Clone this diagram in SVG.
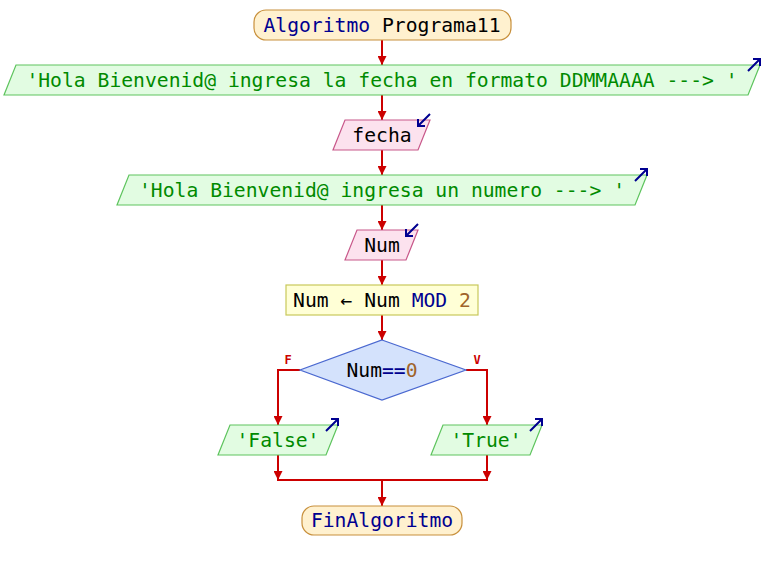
<svg xmlns="http://www.w3.org/2000/svg" width="764" height="570" viewBox="0 0 764 570">
  <defs>
    <style>
      .t { font-family: "DejaVu Sans Mono", "Liberation Mono", monospace; font-size: 19.7px; text-anchor: middle; }
      .term { fill: #fff1cf; stroke: #c8903c; stroke-width: 1.2; }
      .out { fill: #e2fce2; stroke: #5ec45e; stroke-width: 1.2; }
      .in { fill: #fce2ee; stroke: #c8588a; stroke-width: 1.2; }
      .asg { fill: #ffffd6; stroke: #c8c85a; stroke-width: 1.2; }
      .dec { fill: #d4e2fc; stroke: #4a68d0; stroke-width: 1.2; }
      .kw { fill: #000090; }
      .str { fill: #008a00; }
      .num { fill: #a0642a; }
      .var { fill: #000000; }
      .flow { fill: none; stroke: #cc0000; stroke-width: 2; }
      .io { fill: none; stroke: #000090; stroke-width: 2; }
      .lbl { font-family: "DejaVu Sans Mono", monospace; font-size: 12px; font-weight: bold; fill: #cc0000; text-anchor: middle; }
    </style>
    <marker id="ah" viewBox="0 0 10 10" refX="10" refY="5" markerWidth="4.5" markerHeight="4.5" orient="auto" markerUnits="strokeWidth">
      <path d="M0,0 L10,5 L0,10 z" fill="#cc0000"/>
    </marker>
  </defs>

  <!-- connectors -->
  <g id="connectors">
    <path class="flow" d="M382,40 V65" marker-end="url(#ah)"/>
    <path class="flow" d="M382,95 V120" marker-end="url(#ah)"/>
    <path class="flow" d="M382,150 V175" marker-end="url(#ah)"/>
    <path class="flow" d="M382,205 V230" marker-end="url(#ah)"/>
    <path class="flow" d="M382,260 V285" marker-end="url(#ah)"/>
    <path class="flow" d="M382,315 V340" marker-end="url(#ah)"/>
    <path class="flow" d="M300,370 H278 V425" marker-end="url(#ah)"/>
    <path class="flow" d="M466,370 H487 V425" marker-end="url(#ah)"/>
    <path class="flow" d="M278,455 V480" marker-end="url(#ah)"/>
    <path class="flow" d="M487,455 V480" marker-end="url(#ah)"/>
    <path class="flow" d="M277,480 H488"/>
    <path class="flow" d="M382,480 V506" marker-end="url(#ah)"/>
    <text class="lbl" x="288" y="364">F</text>
    <text class="lbl" x="477" y="364">V</text>
  </g>

  <!-- start -->
  <g id="start">
    <rect class="term" x="254" y="10" width="257" height="30" rx="12"/>
    <text class="t" x="382" y="32"><tspan class="kw">Algoritmo</tspan><tspan class="var"> Programa11</tspan></text>
  </g>

  <!-- first message -->
  <g id="msg1">
    <polygon class="out" points="16,65 760,65 748,95 4,95"/>
    <text class="t str" x="382" y="87">'Hola Bienvenid@ ingresa la fecha en formato DDMMAAAA ---&gt; '</text>
    <path class="io" d="M748,71 L760,59 M753,59 H760 V66"/>
  </g>

  <!-- read fecha -->
  <g id="readFecha">
    <polygon class="in" points="345,120 430,120 418,150 333,150"/>
    <text class="t var" x="382" y="142">fecha</text>
    <path class="io" d="M430,114 L418,126 M418,119 V126 H425"/>
  </g>

  <!-- second message -->
  <g id="msg2">
    <polygon class="out" points="129,175 647,175 635,205 117,205"/>
    <text class="t str" x="382" y="197">'Hola Bienvenid@ ingresa un numero ---&gt; '</text>
    <path class="io" d="M635,181 L647,169 M640,169 H647 V176"/>
  </g>

  <!-- read Num -->
  <g id="readNum">
    <polygon class="in" points="357,230 418,230 406,260 345,260"/>
    <text class="t var" x="382" y="252">Num</text>
    <path class="io" d="M418,224 L406,236 M406,229 V236 H413"/>
  </g>

  <!-- assignment -->
  <g id="assign">
    <rect class="asg" x="286" y="285" width="192" height="30"/>
    <text class="t" x="382" y="307"><tspan class="var">Num ← Num </tspan><tspan class="kw">MOD</tspan><tspan class="var"> </tspan><tspan class="num">2</tspan></text>
  </g>

  <!-- decision -->
  <g id="decision">
    <polygon class="dec" points="382,340 466,370 382,400 300,370"/>
    <text class="t" x="382" y="377"><tspan class="var">Num</tspan><tspan class="kw">==</tspan><tspan class="num">0</tspan></text>
  </g>

  <!-- false branch -->
  <g id="outFalse">
    <polygon class="out" points="230,425 338,425 326,455 218,455"/>
    <text class="t str" x="278" y="447">'False'</text>
    <path class="io" d="M326,431 L338,419 M331,419 H338 V426"/>
  </g>

  <!-- true branch -->
  <g id="outTrue">
    <polygon class="out" points="443,425 542,425 530,455 431,455"/>
    <text class="t str" x="486" y="447">'True'</text>
    <path class="io" d="M530,431 L542,419 M535,419 H542 V426"/>
  </g>

  <!-- end -->
  <g id="end">
    <rect class="term" x="302" y="506" width="160" height="29" rx="12"/>
    <text class="t kw" x="382" y="527">FinAlgoritmo</text>
  </g>
</svg>
